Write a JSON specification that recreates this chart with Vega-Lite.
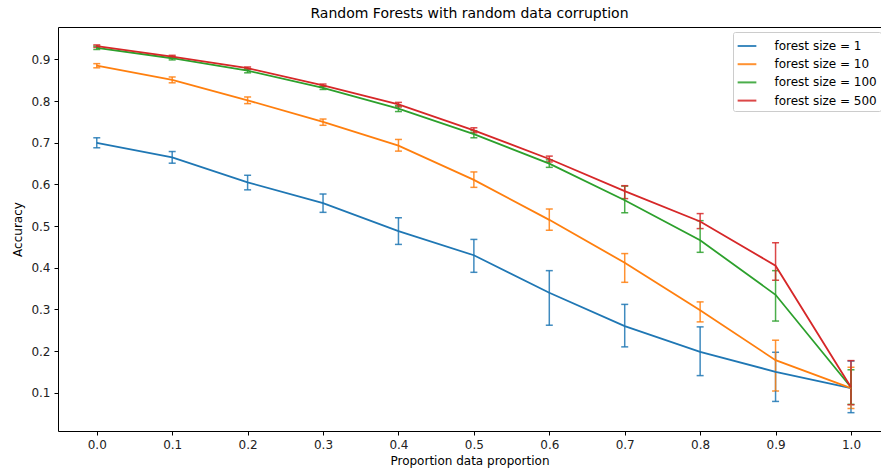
{
  "$schema": "https://vega.github.io/schema/vega-lite/v6.json",
  "width": 823,
  "height": 404,
  "autosize": {"type": "none"},
  "padding": {"left": 58, "top": 27, "right": 0, "bottom": 40},
  "background": "white",
  "title": {"text": "Random Forests with random data corruption", "font": "DejaVu Sans", "fontSize": 14, "fontWeight": "normal", "color": "#000", "anchor": "middle", "offset": 6},
  "config": {
    "view": {"stroke": null},
    "font": "DejaVu Sans",
    "axis": {"grid": false, "domainColor": "#000", "domainWidth": 1, "tickColor": "#000", "tickSize": 4, "tickWidth": 1, "labelFont": "DejaVu Sans", "labelFontSize": 12, "labelColor": "#222", "titleFont": "DejaVu Sans", "titleFontSize": 12, "titleFontWeight": "normal", "titleColor": "#000", "labelPadding": 4},
    "legend": {"symbolType": "stroke", "symbolSize": 350, "symbolStrokeWidth": 2, "labelFont": "DejaVu Sans", "labelFontSize": 12, "labelColor": "#000", "fillColor": "white", "strokeColor": "#cccccc", "cornerRadius": 2, "padding": 3.5, "rowPadding": 1.2, "labelOffset": 17, "labelLimit": 300}
  },
  "data": {"values": [
    {"p": 0.0, "size": "forest size = 1", "acc": 0.700, "lo": 0.688, "hi": 0.712},
    {"p": 0.1, "size": "forest size = 1", "acc": 0.665, "lo": 0.651, "hi": 0.679},
    {"p": 0.2, "size": "forest size = 1", "acc": 0.605, "lo": 0.587, "hi": 0.622},
    {"p": 0.3, "size": "forest size = 1", "acc": 0.555, "lo": 0.533, "hi": 0.577},
    {"p": 0.4, "size": "forest size = 1", "acc": 0.488, "lo": 0.456, "hi": 0.520},
    {"p": 0.5, "size": "forest size = 1", "acc": 0.430, "lo": 0.389, "hi": 0.468},
    {"p": 0.6, "size": "forest size = 1", "acc": 0.340, "lo": 0.262, "hi": 0.393},
    {"p": 0.7, "size": "forest size = 1", "acc": 0.260, "lo": 0.210, "hi": 0.312},
    {"p": 0.8, "size": "forest size = 1", "acc": 0.198, "lo": 0.141, "hi": 0.258},
    {"p": 0.9, "size": "forest size = 1", "acc": 0.150, "lo": 0.079, "hi": 0.197},
    {"p": 1.0, "size": "forest size = 1", "acc": 0.111, "lo": 0.052, "hi": 0.176},
    {"p": 0.0, "size": "forest size = 10", "acc": 0.885, "lo": 0.880, "hi": 0.890},
    {"p": 0.1, "size": "forest size = 10", "acc": 0.851, "lo": 0.844, "hi": 0.858},
    {"p": 0.2, "size": "forest size = 10", "acc": 0.802, "lo": 0.794, "hi": 0.810},
    {"p": 0.3, "size": "forest size = 10", "acc": 0.750, "lo": 0.742, "hi": 0.757},
    {"p": 0.4, "size": "forest size = 10", "acc": 0.693, "lo": 0.680, "hi": 0.708},
    {"p": 0.5, "size": "forest size = 10", "acc": 0.611, "lo": 0.593, "hi": 0.630},
    {"p": 0.6, "size": "forest size = 10", "acc": 0.515, "lo": 0.490, "hi": 0.541},
    {"p": 0.7, "size": "forest size = 10", "acc": 0.412, "lo": 0.365, "hi": 0.434},
    {"p": 0.8, "size": "forest size = 10", "acc": 0.298, "lo": 0.270, "hi": 0.318},
    {"p": 0.9, "size": "forest size = 10", "acc": 0.178, "lo": 0.104, "hi": 0.226},
    {"p": 1.0, "size": "forest size = 10", "acc": 0.111, "lo": 0.062, "hi": 0.161},
    {"p": 0.0, "size": "forest size = 100", "acc": 0.928, "lo": 0.924, "hi": 0.932},
    {"p": 0.1, "size": "forest size = 100", "acc": 0.903, "lo": 0.899, "hi": 0.907},
    {"p": 0.2, "size": "forest size = 100", "acc": 0.873, "lo": 0.868, "hi": 0.878},
    {"p": 0.3, "size": "forest size = 100", "acc": 0.832, "lo": 0.828, "hi": 0.836},
    {"p": 0.4, "size": "forest size = 100", "acc": 0.782, "lo": 0.775, "hi": 0.789},
    {"p": 0.5, "size": "forest size = 100", "acc": 0.721, "lo": 0.712, "hi": 0.729},
    {"p": 0.6, "size": "forest size = 100", "acc": 0.650, "lo": 0.641, "hi": 0.659},
    {"p": 0.7, "size": "forest size = 100", "acc": 0.562, "lo": 0.532, "hi": 0.596},
    {"p": 0.8, "size": "forest size = 100", "acc": 0.466, "lo": 0.437, "hi": 0.513},
    {"p": 0.9, "size": "forest size = 100", "acc": 0.335, "lo": 0.272, "hi": 0.393},
    {"p": 1.0, "size": "forest size = 100", "acc": 0.113, "lo": 0.072, "hi": 0.155},
    {"p": 0.0, "size": "forest size = 500", "acc": 0.932, "lo": 0.929, "hi": 0.935},
    {"p": 0.1, "size": "forest size = 500", "acc": 0.907, "lo": 0.904, "hi": 0.910},
    {"p": 0.2, "size": "forest size = 500", "acc": 0.879, "lo": 0.876, "hi": 0.882},
    {"p": 0.3, "size": "forest size = 500", "acc": 0.838, "lo": 0.835, "hi": 0.841},
    {"p": 0.4, "size": "forest size = 500", "acc": 0.792, "lo": 0.786, "hi": 0.797},
    {"p": 0.5, "size": "forest size = 500", "acc": 0.730, "lo": 0.724, "hi": 0.736},
    {"p": 0.6, "size": "forest size = 500", "acc": 0.661, "lo": 0.654, "hi": 0.668},
    {"p": 0.7, "size": "forest size = 500", "acc": 0.584, "lo": 0.566, "hi": 0.597},
    {"p": 0.8, "size": "forest size = 500", "acc": 0.511, "lo": 0.494, "hi": 0.530},
    {"p": 0.9, "size": "forest size = 500", "acc": 0.405, "lo": 0.370, "hi": 0.460},
    {"p": 1.0, "size": "forest size = 500", "acc": 0.113, "lo": 0.071, "hi": 0.177}
  ]},
  "layer": [
    {
      "mark": {"type": "errorbar", "ticks": {"size": 7, "thickness": 1.5}, "thickness": 1.5, "opacity": 0.85},
      "encoding": {
        "x": {"field": "p", "type": "quantitative", "scale": {"domain": [-0.0514, 1.0398], "nice": false, "zero": false},
          "axis": {"values": [0, 0.1, 0.2, 0.3, 0.4, 0.5, 0.6, 0.7, 0.8, 0.9, 1.0], "format": ".1f", "title": "Proportion data proportion", "titlePadding": 5}},
        "y": {"field": "lo", "type": "quantitative", "scale": {"domain": [0.008, 0.978], "nice": false, "zero": false},
          "axis": {"values": [0.1, 0.2, 0.3, 0.4, 0.5, 0.6, 0.7, 0.8, 0.9], "format": ".1f", "title": "Accuracy", "titlePadding": 6}},
        "y2": {"field": "hi"},
        "color": {"field": "size", "type": "nominal", "scale": {"domain": ["forest size = 1", "forest size = 10", "forest size = 100", "forest size = 500"], "range": ["#1f77b4", "#ff7f0e", "#2ca02c", "#d62728"]},
          "legend": {"title": null, "orient": "none", "legendX": 675, "legendY": 5}}
      }
    },
    {
      "mark": {"type": "line", "strokeWidth": 1.8},
      "encoding": {
        "x": {"field": "p", "type": "quantitative", "axis": null},
        "y": {"field": "acc", "type": "quantitative"},
        "color": {"field": "size", "type": "nominal"}
      }
    },
    {
      "mark": {"type": "rule", "opacity": 0},
      "encoding": {
        "x": {"field": "p", "type": "quantitative", "axis": {"orient": "top", "labels": false, "ticks": false, "title": null, "domain": true}}
      }
    }
  ],
  "resolve": {"axis": {"x": "independent"}}
}
